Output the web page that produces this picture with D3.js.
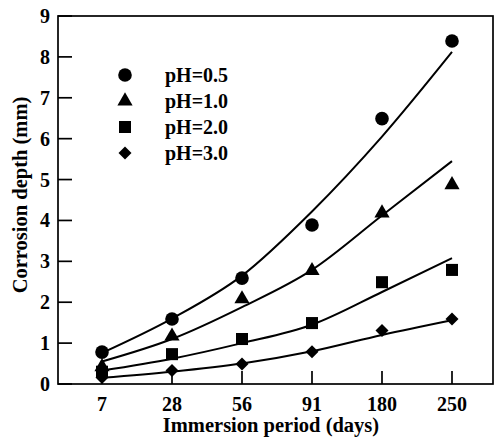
<!DOCTYPE html>
<html>
<head>
<meta charset="UTF-8" />
<style>
    body { margin: 0; background: #fff; }
    text { font-family: "Liberation Serif", "DejaVu Serif", serif; font-weight: bold; fill: #000; }
    .tick-label { font-size: 20px; }
    .axis-title { font-size: 20.5px; }
    .legend text { font-size: 20px; }
</style>
<script src="https://d3js.org/d3.v7.min.js"></script>
</head>
<body>
<svg width="499" height="439"></svg>
<script>
    var days = ["7", "28", "56", "91", "180", "250"];
    var ph05 = [0.78, 1.59, 2.59, 3.89, 6.49, 8.39];
    var ph10 = [0.42, 1.17, 2.08, 2.77, 4.18, 4.87];
    var ph20 = [0.30, 0.73, 1.10, 1.49, 2.49, 2.79];
    var ph30 = [0.16, 0.33, 0.49, 0.79, 1.31, 1.59];

    // fitted curves
    var fit05 = [0.76, 1.60, 2.65, 4.22, 6.05, 8.12];
    var fit10 = [0.55, 1.10, 1.88, 2.79, 4.12, 5.45];
    var fit20 = [0.33, 0.62, 1.00, 1.45, 2.25, 3.08];
    var fit30 = [0.15, 0.30, 0.50, 0.80, 1.20, 1.56];

    var seriesNames = ["pH=0.5", "pH=1.0", "pH=2.0", "pH=3.0"];
    var yTicks = [0, 1, 2, 3, 4, 5, 6, 7, 8, 9];

    var series = [
        { name: seriesNames[0], pts: ph05, fit: fit05, sym: d3.symbolCircle, size: 145, rot: 0 },
        { name: seriesNames[1], pts: ph10, fit: fit10, sym: d3.symbolTriangle, size: 100, rot: 0 },
        { name: seriesNames[2], pts: ph20, fit: fit20, sym: d3.symbolSquare, size: 145, rot: 0 },
        { name: seriesNames[3], pts: ph30, fit: fit30, sym: d3.symbolSquare, size: 85, rot: 45 }
    ];

    var svg = d3.select("svg");
    var pLeft = 58, pRight = 493, pTop = 16, pBottom = 384;

    var x = d3.scalePoint().domain(days).range([102, 452]);
    var y = d3.scaleLinear().domain([0, 9]).range([pBottom, pTop]);

    // frame
    svg.append("rect")
       .attr("x", pLeft).attr("y", pTop)
       .attr("width", pRight - pLeft).attr("height", pBottom - pTop)
       .attr("fill", "none").attr("stroke", "#000").attr("stroke-width", 1.7);

    // y ticks (inward)
    svg.append("g").selectAll("line").data(yTicks).enter().append("line")
       .attr("x1", pLeft).attr("x2", pLeft + 14)
       .attr("y1", function(d) { return y(d); })
       .attr("y2", function(d) { return y(d); })
       .attr("stroke", "#000").attr("stroke-width", 1.7);
    svg.append("g").selectAll("text").data(yTicks).enter().append("text")
       .attr("class", "tick-label")
       .attr("x", 50).attr("y", function(d) { return y(d); })
       .attr("dy", "0.35em").attr("text-anchor", "end")
       .text(function(d) { return d; });

    // x ticks (inward)
    svg.append("g").selectAll("line").data(days).enter().append("line")
       .attr("x1", function(d) { return x(d); })
       .attr("x2", function(d) { return x(d); })
       .attr("y1", pBottom).attr("y2", pBottom - 13)
       .attr("stroke", "#000").attr("stroke-width", 1.7);
    svg.append("g").selectAll("text").data(days).enter().append("text")
       .attr("class", "tick-label")
       .attr("x", function(d) { return x(d); }).attr("y", 411)
       .attr("text-anchor", "middle")
       .text(function(d) { return d; });

    svg.append("text").attr("class", "axis-title")
       .attr("x", 271).attr("y", 432).attr("text-anchor", "middle")
       .text("Immersion period (days)");
    svg.append("text").attr("class", "axis-title")
       .attr("transform", "translate(27,195) rotate(-90)")
       .attr("text-anchor", "middle")
       .text("Corrosion depth (mm)");

    var line = d3.line()
        .x(function(d, i) { return x(days[i]); })
        .y(function(d) { return y(d); })
        .curve(d3.curveMonotoneX);

    series.forEach(function(s) {
        svg.append("path").datum(s.fit)
           .attr("d", line)
           .attr("fill", "none").attr("stroke", "#000").attr("stroke-width", 2);
        svg.append("g").selectAll("path").data(s.pts).enter().append("path")
           .attr("d", d3.symbol().type(s.sym).size(s.size))
           .attr("transform", function(d, i) {
               return "translate(" + x(days[i]) + "," + y(d) + ") rotate(" + s.rot + ")";
           })
           .attr("fill", "#000");
    });

    // legend
    var legend = svg.append("g").attr("class", "legend");
    series.forEach(function(s, i) {
        var ly = 75 + i * 26;
        legend.append("path")
              .attr("d", d3.symbol().type(s.sym).size(s.size))
              .attr("transform", "translate(125," + ly + ") rotate(" + s.rot + ")")
              .attr("fill", "#000");
        legend.append("text")
              .attr("x", 165).attr("y", ly).attr("dy", "0.35em")
              .text(s.name);
    });
</script>
</body>
</html>
